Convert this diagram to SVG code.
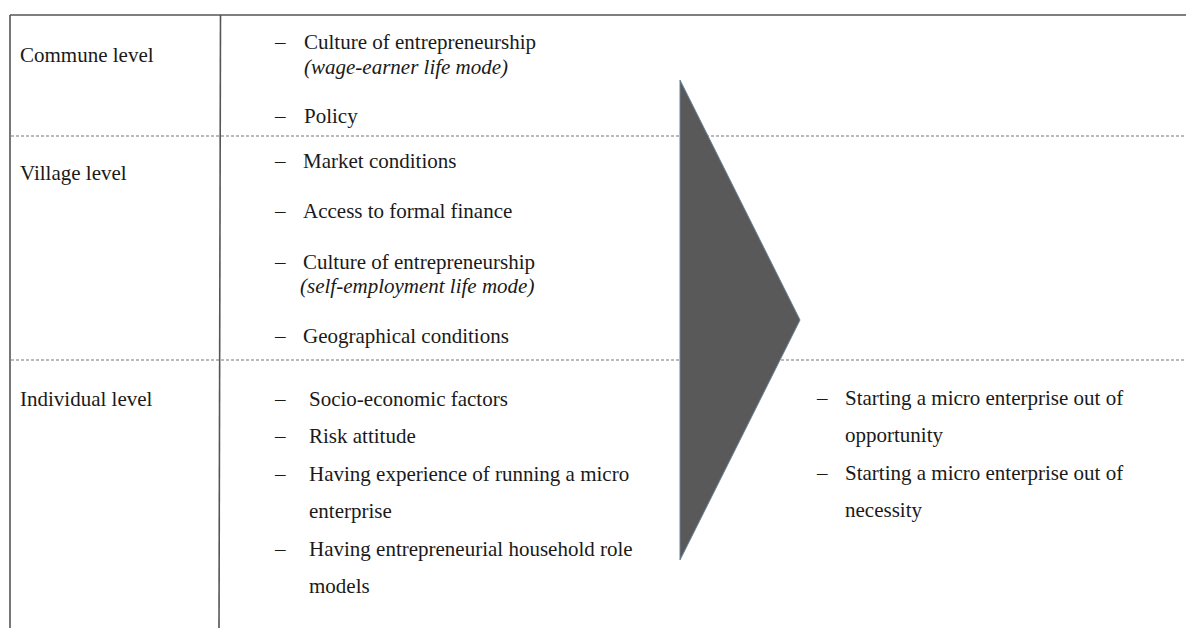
<svg xmlns="http://www.w3.org/2000/svg" width="1186" height="628" viewBox="0 0 1186 628">
<style>
text{font-family:"Liberation Serif","Times New Roman",serif;font-size:21px;fill:#1a1a1a}
.it{font-style:italic}
.frame{stroke:#555;stroke-width:1.6;fill:none}
.dash{stroke:#777;stroke-width:1.2;stroke-dasharray:3,2;fill:none}
</style>
<rect width="1186" height="628" fill="#fff"/>
<g id="table">
<line class="frame" x1="10" y1="15" x2="1186" y2="15"/>
<line class="frame" x1="10" y1="15" x2="10" y2="628"/>
<line class="frame" x1="220.5" y1="15" x2="219" y2="628"/>
<line class="dash" x1="11" y1="136" x2="1186" y2="136"/>
<line class="dash" x1="11" y1="360" x2="1186" y2="360"/>
</g>
<g id="arrow">
<polygon points="680,80 800,320 680,560" fill="#595959" stroke="#6b819a" stroke-width="1"/>
</g>
<g id="commune">
<text x="20" y="62">Commune level</text>
<text x="275" y="49">–</text><text x="304" y="49">Culture of entrepreneurship</text>
<text class="it" x="304" y="74">(wage-earner life mode)</text>
<text x="275" y="123">–</text><text x="304" y="123">Policy</text>
</g>
<g id="village">
<text x="20" y="180">Village level</text>
<text x="275" y="167.5">–</text><text x="303" y="167.5">Market conditions</text>
<text x="275" y="217.5">–</text><text x="303" y="217.5">Access to formal finance</text>
<text x="275" y="268.5">–</text><text x="303" y="268.5">Culture of entrepreneurship</text>
<text class="it" x="300" y="292.5">(self-employment life mode)</text>
<text x="275" y="342.5">–</text><text x="303" y="342.5">Geographical conditions</text>
</g>
<g id="individual">
<text x="20" y="406">Individual level</text>
<text x="275" y="406">–</text><text x="309" y="406">Socio-economic factors</text>
<text x="275" y="442.5">–</text><text x="309" y="442.5">Risk attitude</text>
<text x="275" y="480.5">–</text><text x="309" y="480.5">Having experience of running a micro</text>
<text x="309" y="517.5">enterprise</text>
<text x="275" y="555.5">–</text><text x="309" y="555.5">Having entrepreneurial household role</text>
<text x="309" y="592.5">models</text>
</g>
<g id="outcome">
<text x="817" y="405">–</text><text x="845" y="405">Starting a micro enterprise out of</text>
<text x="845" y="442">opportunity</text>
<text x="817" y="479.5">–</text><text x="845" y="479.5">Starting a micro enterprise out of</text>
<text x="845" y="516.5">necessity</text>
</g>
</svg>
